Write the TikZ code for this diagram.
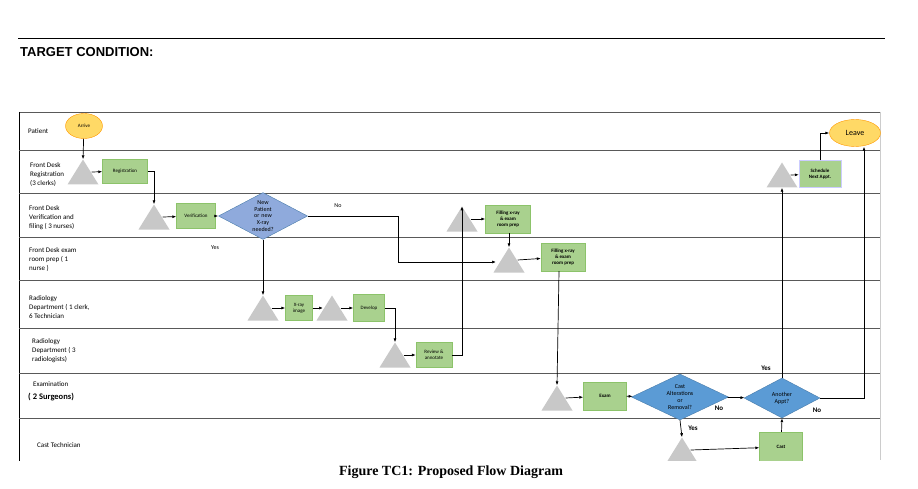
\documentclass[tikz,border=0pt]{standalone}
\usepackage{fontspec}
\setmainfont{Liberation Serif}
\newfontfamily\calf{Carlito}
\newfontfamily\arialf{Liberation Sans}
\usetikzlibrary{shapes.geometric,arrows.meta}
\definecolor{gfill}{HTML}{A9D18E}
\definecolor{gline}{HTML}{8CC36A}
\definecolor{tgray}{HTML}{C8C8C8}
\definecolor{dblue}{HTML}{5B9BD5}
\definecolor{dblue2}{HTML}{8FAADC}
\definecolor{oval}{HTML}{FFD966}
\tikzset{
 lane/.style={line width=0.9pt,draw=gray!70!black},
 lbl/.style={font=\calf\fontsize{7}{9}\selectfont,align=left,anchor=west,inner sep=0},
 box/.style={draw=gline,fill=gfill,font=\calf\fontsize{5}{6}\selectfont,align=center,inner sep=1pt},
 tri/.style={minimum width=31pt,minimum height=25pt,inner sep=0,
   path picture={\fill[tgray] (path picture bounding box.south west) -- (path picture bounding box.south east) -- (path picture bounding box.north) -- cycle;}},
 dia/.style={diamond,aspect=1.9,fill=dblue,draw=dblue!80!black,inner sep=0,font=\calf\fontsize{6}{7}\selectfont,align=center},
 ov/.style={ellipse,fill=oval,draw=orange!80!yellow,inner sep=0},
 ar/.style={-{Latex[length=4pt,width=3pt]},line width=0.7pt},
 yn/.style={font=\calf\bfseries\fontsize{7}{8}\selectfont,inner sep=0}
}
\begin{document}
\begin{tikzpicture}[x=1pt,y=-1pt]
\useasboundingbox (0,0) rectangle (918,489);
\draw[line width=0.6pt] (18,38) -- (885,38);
\node[anchor=west,inner sep=0,font=\arialf\bfseries\fontsize{13}{15}\selectfont] (title) at (20,52) {TARGET CONDITION:};
\node[font=\bfseries\fontsize{14}{16}\selectfont,inner sep=0] (cap) at (451,472) {Figure TC1: Proposed Flow Diagram};
\begin{scope}
\clip (0,100) rectangle (918,460);
\draw[lane] (19,112) -- (880,112);
\draw[gray!40,line width=0.6pt] (880,112) -- (880,460);
\draw[line width=0.8pt] (19,112) -- (19,470);
\foreach \y in {150,193,237,280,328,373,418} \draw[lane] (19,\y) -- (880,\y);
\node[lbl] (l1) at (28,131) {Patient};
\node[lbl] (l2) at (30,175) {Front Desk\\Registration\\(3 clerks)};
\node[lbl] (l3) at (29,218) {Front Desk\\Verification and\\filing ( 3 nurses)};
\node[lbl] (l4) at (29,260) {Front Desk exam\\room prep ( 1\\nurse )};
\node[lbl] (l5) at (29,307) {Radiology\\Department ( 1 clerk,\\6 Technician};
\node[lbl] (l6) at (32,351) {Radiology\\Department ( 3\\radiologists)};
\node[lbl] (l7) at (33,384) {Examination};
\node[lbl,font=\calf\bfseries\fontsize{8.5}{10}\selectfont] (l8) at (28,397) {( 2 Surgeons)};
\node[lbl] (l9) at (37,445) {Cast Technician};

\node[ov,minimum width=37pt,minimum height=25pt,font=\calf\fontsize{5}{6}\selectfont] (arrive) at (84,126) {Arrive};
\node[ov,minimum width=51pt,minimum height=27pt,font=\calf\fontsize{8}{9}\selectfont] (leave) at (855,133) {Leave};

\node[tri] (t1) at (83,172) {};
\node[box,minimum width=45pt,minimum height=24pt] (reg) at (125,171) {Registration};
\node[tri] (t2) at (154,217) {};
\node[box,minimum width=39pt,minimum height=25pt] (ver) at (196,216) {Verification};
\node[dia,fill=dblue2,minimum width=72pt,minimum height=38pt,text width=30pt,font=\calf\fontsize{6}{6.8}\selectfont] (d1) at (263,216) {New\\Patient\\or new\\X-ray\\needed?};
\node[tri] (t3) at (263,308) {};
\node[box,minimum width=27pt,minimum height=25pt] (xr) at (299,308) {X-ray\\image};
\node[tri] (t4) at (332,308) {};
\node[box,minimum width=31pt,minimum height=27pt] (dev) at (369,308) {Develop};
\node[tri] (t5) at (395,355) {};
\node[box,minimum width=36pt,minimum height=25pt] (rev) at (434,355) {Review \&\\annotate};
\node[tri] (t6) at (462,219) {};
\node[box,minimum width=45pt,minimum height=28pt,font=\calf\bfseries\fontsize{5}{6}\selectfont] (f1) at (508,219) {Filling x-ray\\\& exam\\room prep};
\node[tri] (t7) at (509,260) {};
\node[box,minimum width=44pt,minimum height=28pt,font=\calf\bfseries\fontsize{5}{6}\selectfont] (f2) at (563,257) {Filling x-ray\\\& exam\\room prep};
\node[tri] (t8) at (557,398) {};
\node[box,minimum width=43pt,minimum height=28pt,font=\calf\bfseries\fontsize{5}{6}\selectfont] (exam) at (605,396) {Exam};
\node[dia,minimum width=97pt,minimum height=40pt,text width=40pt] (d2) at (680,397) {Cast\\Alterations\\or\\Removal?};
\node[dia,minimum width=76pt,minimum height=40pt,text width=40pt] (d3) at (782,398) {Another\\Appt?};
\node[tri] (t9) at (682,450) {};
\node[box,minimum width=43pt,minimum height=30pt,font=\calf\bfseries\fontsize{5}{6}\selectfont] (cast) at (781,447) {Cast};
\node[tri] (t10) at (782,175) {};
\node[box,minimum width=42pt,minimum height=27pt,draw=blue!20,font=\calf\bfseries\fontsize{5}{6}\selectfont] (sch) at (820,174) {Schedule\\Next Appt.};

\draw[ar] (arrive) -- (t1.north);
\draw[ar] ([xshift=-7pt]t1.east) -- (reg);
\draw[ar] (reg.east) -| (t2.north);
\draw[ar] ([xshift=-7pt]t2.east) -- (ver);
\draw[ar] (ver) -- (d1);
\draw[ar] (d1.east) -| (398,262) -- ([xshift=-13pt]t7.center |- 0,262);
\draw[ar] (d1.south) -- (t3.north);
\draw[ar] ([xshift=-7pt]t3.east) -- (xr);
\draw[ar] (xr) -- ([xshift=-9pt]t4.center);
\draw[ar] ([xshift=-7pt]t4.east) -- (dev);
\draw[ar] (dev.east) -| (t5.north);
\draw[ar] ([xshift=-7pt]t5.east) -- (rev);
\draw[ar] (rev.east) -| (t6.north);
\draw[ar] ([xshift=-7pt]t6.east) -- (f1);
\draw[ar] (f1.south -| t7.north) -- (t7.north);
\draw[ar] ([xshift=-7pt]t7.east) -- (f2);
\draw[ar] ([xshift=-4pt]f2.south) -- (t8.north);
\draw[ar] ([xshift=-7pt]t8.east) -- (exam);
\draw[ar] (exam) -- (d2);
\draw[ar] (d2) -- (d3);
\draw[ar] (d2.south) -- (t9.north);
\draw[ar] ([xshift=-7pt]t9.east) -- (cast);
\draw[ar] (cast) -- (d3.south);
\draw[ar] (d3.north) -- (t10.south);
\draw[ar] ([xshift=-7pt]t10.east) -- (sch);
\draw[ar] (sch.north) |- (leave.west);
\draw[ar] (d3.east) -| ([xshift=9pt]leave.south);

\node[yn,font=\calf\fontsize{6}{7}\selectfont] (no1) at (338,206) {No};
\node[yn,font=\calf\fontsize{6}{7}\selectfont] (yes1) at (215,248) {Yes};
\node[yn] (no2) at (719,408) {No};
\node[yn] (no3) at (817,410) {No};
\node[yn] (yes2) at (766,368) {Yes};
\node[yn] (yes3) at (693,428) {Yes};
\end{scope}
\end{tikzpicture}
\end{document}
